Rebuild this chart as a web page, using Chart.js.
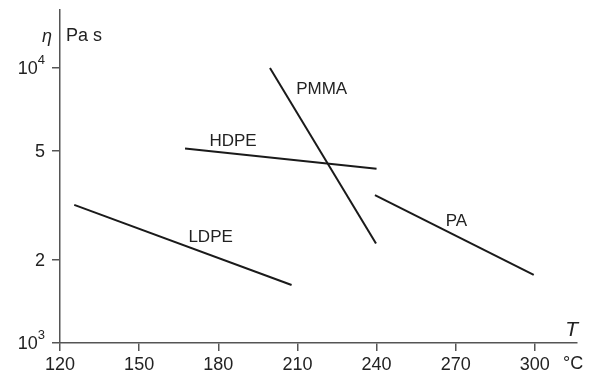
<!DOCTYPE html>
<html>
<head>
<meta charset="utf-8">
<script src="https://cdn.jsdelivr.net/npm/chart.js@4"></script>
<style>
  html, body { margin: 0; padding: 0; background: #fff; }
  #wrap { width: 590px; height: 377px; }
</style>
</head>
<body>
<div id="wrap"><canvas id="viscChart" width="590" height="377"></canvas></div>
<script>
// viscosity vs temperature, log scale
const xTicks = [120, 150, 180, 210, 240, 270, 300];
const yTicks = [1000, 2000, 5000, 10000];
const yTickBase = ['10', '2', '5', '10'];
const yTickExp = ['3', '', '', '4'];

const ldpe = [{x: 125.4, y: 3180}, {x: 207.8, y: 1625}];
const hdpe = [{x: 167.4, y: 5100}, {x: 240, y: 4300}];
const pmma = [{x: 199.6, y: 10000}, {x: 239.8, y: 2300}];
const pa   = [{x: 239.4, y: 3450}, {x: 299.6, y: 1770}];

const names = ['LDPE', 'HDPE', 'PMMA', 'PA'];
const labelX = [177.1, 185.6, 219.2, 270.3];
const labelY = [2430, 5430, 8390, 2780];

const ink = '#1a1a1a';
const axisColor = '#555';
const font = '"Liberation Sans", Arial, Helvetica, sans-serif';

function line(data) {
  return { data: data, borderColor: ink, borderWidth: 2, pointRadius: 0, fill: false, tension: 0 };
}

// curve names, y tick labels with exponents, axis titles
const textPlugin = {
  id: 'texts',
  afterDatasetsDraw(chart) {
    const ctx = chart.ctx;
    const xs = chart.scales.x, ys = chart.scales.y;
    const area = chart.chartArea;
    ctx.save();
    ctx.fillStyle = '#222';
    ctx.font = '17px ' + font;
    ctx.textAlign = 'center';
    ctx.textBaseline = 'middle';
    names.forEach((n, i) => {
      ctx.fillText(n, xs.getPixelForValue(labelX[i]), ys.getPixelForValue(labelY[i]));
    });

    // y tick labels
    yTicks.forEach((v, i) => {
      const py = ys.getPixelForValue(v);
      let right = area.left - 15;
      ctx.textAlign = 'right';
      if (yTickExp[i]) {
        ctx.font = '13px ' + font;
        ctx.fillText(yTickExp[i], right, py - 8);
        right -= ctx.measureText(yTickExp[i]).width;
      }
      ctx.font = '18px ' + font;
      ctx.fillText(yTickBase[i], right, py + 1);
    });

    // eta and unit next to the y axis
    ctx.font = 'italic 18px ' + font;
    ctx.textAlign = 'right';
    ctx.fillText('η', area.left - 8, area.top + 27);
    ctx.font = '18px ' + font;
    ctx.textAlign = 'left';
    ctx.fillText('Pa s', area.left + 6, area.top + 26);
    // T and °C at the end of the x axis
    ctx.font = 'italic 21px ' + font;
    ctx.textAlign = 'right';
    ctx.fillText('T', area.right + 1, area.bottom - 13);
    ctx.font = '18px ' + font;
    ctx.textAlign = 'left';
    ctx.fillText('°C', area.right - 14, area.bottom + 21);
    ctx.restore();
  }
};

const ctx = document.getElementById('viscChart').getContext('2d');
const chart = new Chart(ctx, {
  type: 'line',
  data: {
    datasets: [line(ldpe), line(hdpe), line(pmma), line(pa)]
  },
  options: {
    responsive: false,
    animation: false,
    layout: { padding: { top: 10, right: 13, left: 0, bottom: 0 } },
    plugins: { legend: { display: false }, tooltip: { enabled: false } },
    scales: {
      x: {
        type: 'linear',
        min: 120,
        max: 316,
        afterBuildTicks: (s) => { s.ticks = xTicks.map(v => ({ value: v })); },
        afterFit: (s) => { s.height = 34; },
        border: { display: true, color: axisColor, width: 1.5 },
        grid: { drawOnChartArea: false, drawTicks: true, tickLength: 8, color: axisColor, lineWidth: 1.5 },
        ticks: { color: '#222', font: { family: font, size: 18 }, padding: 3, maxRotation: 0, autoSkip: false }
      },
      y: {
        type: 'logarithmic',
        min: 1000,
        max: 16250,
        afterBuildTicks: (s) => { s.ticks = yTicks.map(v => ({ value: v })); },
        afterFit: (s) => { s.width = 60; },
        border: { display: true, color: axisColor, width: 1.5 },
        grid: { drawOnChartArea: false, drawTicks: true, tickLength: 8, color: axisColor, lineWidth: 1.5 },
        ticks: { display: false }
      }
    }
  },
  plugins: [textPlugin]
});
</script>
</body>
</html>
